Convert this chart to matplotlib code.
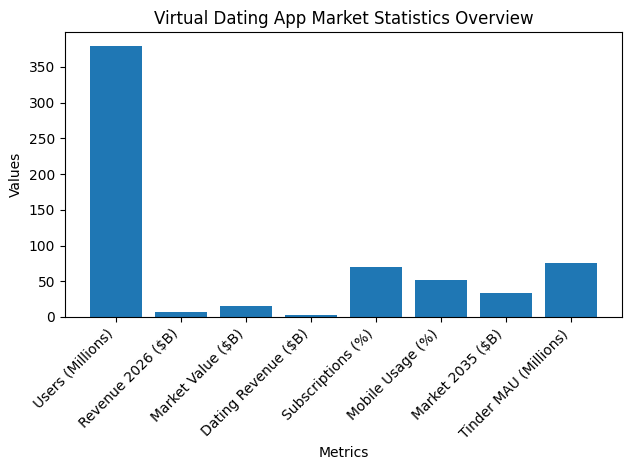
import matplotlib
matplotlib.use("Agg")
import matplotlib.pyplot as plt

metrics = ["Users (Millions)", "Revenue 2026 ($B)", "Market Value ($B)",
           "Dating Revenue ($B)", "Subscriptions (%)", "Mobile Usage (%)",
           "Market 2035 ($B)", "Tinder MAU (Millions)"]
values = [380, 6.5, 15, 3, 70, 52, 33, 75]

fig, ax = plt.subplots(figsize=(6.3, 4.7), dpi=100)
ax.bar(metrics, values, color="#1f77b4")
ax.set_title("Virtual Dating App Market Statistics Overview")
ax.set_xlabel("Metrics")
ax.set_ylabel("Values")
plt.xticks(rotation=45, ha="right")
fig.subplots_adjust(left=65/630, right=622/630, top=1-32/470, bottom=1-317/470)
plt.savefig("out.png")
